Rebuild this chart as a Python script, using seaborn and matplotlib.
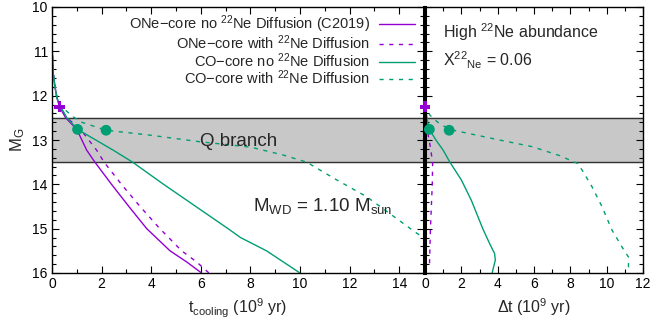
import matplotlib
matplotlib.use("Agg")
import matplotlib.pyplot as plt
from matplotlib.ticker import MultipleLocator
import seaborn as sns
import pandas as pd

# --- left panel: cooling time vs M_G
one_nodiff_t = [0.0, 0.01, 0.05, 0.12, 0.2, 0.3, 0.55, 1.0, 1.4, 1.73, 2.4, 3.1, 3.82, 4.76, 5.43, 6.03]
one_nodiff_M = [10.0, 11.0, 11.5, 11.8, 12.05, 12.25, 12.5, 12.76, 13.23, 13.5, 14.0, 14.5, 15.0, 15.5, 15.75, 16.0]
one_diff_t = [0.0, 0.01, 0.05, 0.12, 0.2, 0.3, 0.6, 1.15, 1.8, 2.1, 2.8, 3.55, 4.35, 5.23, 5.83, 6.33]
one_diff_M = [10.0, 11.0, 11.5, 11.8, 12.05, 12.25, 12.5, 12.76, 13.23, 13.5, 14.0, 14.5, 15.0, 15.5, 15.75, 16.0]
co_nodiff_t = [0.0, 0.01, 0.05, 0.12, 0.2, 0.32, 0.6, 1.03, 2.47, 3.25, 4.5, 5.8, 7.1, 7.6, 8.65, 10.0]
co_nodiff_M = [10.0, 11.0, 11.5, 11.8, 12.05, 12.22, 12.5, 12.76, 13.23, 13.5, 14.0, 14.5, 15.0, 15.2, 15.5, 16.0]
co_diff_t = [0.0, 0.01, 0.05, 0.12, 0.2, 0.32, 0.86, 1.2, 2.18, 3.95, 5.97, 8.0, 9.33, 10.27, 11.48, 12.69, 14.7, 15.3]
co_diff_M = [10.0, 11.0, 11.5, 11.8, 12.05, 12.22, 12.48, 12.6, 12.78, 12.89, 13.04, 13.16, 13.34, 13.5, 13.9, 14.28, 15.1, 15.3]

# --- right panel: delay relative to the ONe no-diffusion track
d_one_diff_t = [0.0, 0.0, 0.1, 0.18, 0.27, 0.42, 0.4, 0.35, 0.3, 0.24]
d_one_diff_M = [10.0, 12.25, 12.5, 12.9, 13.1, 13.5, 14.0, 14.5, 15.0, 15.9]
d_co_nodiff_t = [0.0, 0.02, 0.1, 0.24, 0.6, 1.0, 1.37, 2.0, 2.55, 3.19, 3.55, 3.83, 3.87, 3.73, 3.7]
d_co_nodiff_M = [10.0, 12.2, 12.5, 12.76, 13.0, 13.23, 13.5, 13.9, 14.36, 15.01, 15.33, 15.56, 15.71, 15.94, 16.0]
d_co_diff_t = [0.0, 0.02, 0.27, 0.7, 1.33, 4.1, 5.9, 7.4, 8.4, 8.65, 9.2, 9.74, 10.29, 10.84, 11.2, 11.2]
d_co_diff_M = [10.0, 12.2, 12.44, 12.6, 12.76, 13.0, 13.15, 13.35, 13.53, 13.68, 14.06, 14.5, 15.03, 15.41, 15.64, 15.92]

# Q branch onset markers
mark_left_t = [0.3, 1.03, 2.18]
mark_left_M = [12.25, 12.76, 12.78]
mark_right_t = [0.0, 0.24, 1.33]
mark_right_M = [12.25, 12.76, 12.78]

labels = ["ONe\u2212core no $^{22}$Ne Diffusion (C2019)",
          "ONe\u2212core with $^{22}$Ne Diffusion",
          "CO\u2212core no $^{22}$Ne Diffusion",
          "CO\u2212core with $^{22}$Ne Diffusion"]

purple = "#9400d3"
green = "#009e73"

sns.set_style("ticks")
plt.rcParams['font.family'] = ['Liberation Sans', 'DejaVu Sans']
plt.rcParams['mathtext.default'] = 'regular'

fig = plt.figure(figsize=(6.5, 3.22), dpi=100)
axL = fig.add_axes([52 / 650, 1 - 273 / 322, 372 / 650, 266 / 322])
axR = fig.add_axes([425 / 650, 1 - 273 / 322, 218 / 650, 266 / 322])


def draw(ax, t, M, color, dashed, label=None):
    df = pd.DataFrame({"t": t, "M": M})
    sns.lineplot(data=df, x="t", y="M", sort=False, estimator=None, ax=ax,
                 color=color, lw=1.0, label=label,
                 linestyle=(0, (3, 4)) if dashed else "-")


for ax in (axL, axR):
    ax.axhspan(12.5, 13.5, color="#c8c8c8", zorder=0)
    ax.axhline(12.5, color="#333333", lw=1.0, zorder=1)
    ax.axhline(13.5, color="#333333", lw=1.0, zorder=1)

draw(axL, one_nodiff_t, one_nodiff_M, purple, False, labels[0])
draw(axL, one_diff_t, one_diff_M, purple, True, labels[1])
draw(axL, co_nodiff_t, co_nodiff_M, green, False, labels[2])
draw(axL, co_diff_t, co_diff_M, green, True, labels[3])

draw(axR, [0.0, 0.0], [10.0, 16.0], purple, False)
draw(axR, d_one_diff_t, d_one_diff_M, purple, True)
draw(axR, d_co_nodiff_t, d_co_nodiff_M, green, False)
draw(axR, d_co_diff_t, d_co_diff_M, green, True)

mcolors = [purple, green, green]
mshapes = ["P", "o", "o"]
for ax, mt, mM in ((axL, mark_left_t, mark_left_M), (axR, mark_right_t, mark_right_M)):
    for x, y, c, m in zip(mt, mM, mcolors, mshapes):
        sns.scatterplot(x=[x], y=[y], ax=ax, color=c, marker=m, s=60,
                        edgecolor="none", zorder=5, clip_on=False)

axL.set_xlim(0, 15)
axR.set_xlim(0, 12)
for ax in (axL, axR):
    ax.set_ylim(16, 10)
    ax.xaxis.set_major_locator(MultipleLocator(2))
    ax.xaxis.set_minor_locator(MultipleLocator(1))
    ax.yaxis.set_major_locator(MultipleLocator(1))
    ax.yaxis.set_minor_locator(MultipleLocator(0.2))
    ax.tick_params(which="both", direction="in", top=True, right=True,
                   labelsize=10, colors="black", pad=3)
    ax.tick_params(which="major", length=5, width=0.8)
    ax.tick_params(which="minor", length=3, width=0.8)
    for s in ax.spines.values():
        s.set_linewidth(1.0)
        s.set_color("black")
axR.tick_params(labelleft=False)
axL.spines["right"].set_linewidth(2.2)
axR.spines["left"].set_linewidth(2.2)

axL.set_ylabel("M$_G$", fontsize=12, labelpad=4)
axL.set_xlabel("t$_{cooling}$ (10$^9$ yr)", fontsize=11.5, labelpad=4)
axR.set_xlabel("\u0394t (10$^9$ yr)", fontsize=11.5, labelpad=4)
axR.set_ylabel("")

axL.text(7.54, 13.03, "Q branch", fontsize=13.5, ha="center", va="center")
axL.text(10.9, 14.5, "M$_{WD}$ = 1.10 M$_{sun}$", fontsize=13.5, ha="center", va="center")
axR.text(1.0, 10.56, "High $^{22}$Ne abundance", fontsize=11.5, ha="left", va="center")
axR.text(1.0, 11.2, "X$^{22}$$_{Ne}$ = 0.06", fontsize=11.5, ha="left", va="center")

leg = axL.legend(loc="upper right", bbox_to_anchor=(1.0, 1.0 + 2 / 266),
                 frameon=False, markerfirst=False, fontsize=10.5,
                 handlelength=2.5, labelspacing=-0.1, borderaxespad=0.3,
                 borderpad=0.3, handletextpad=0.6)

fig.savefig("out.png", dpi=100)
